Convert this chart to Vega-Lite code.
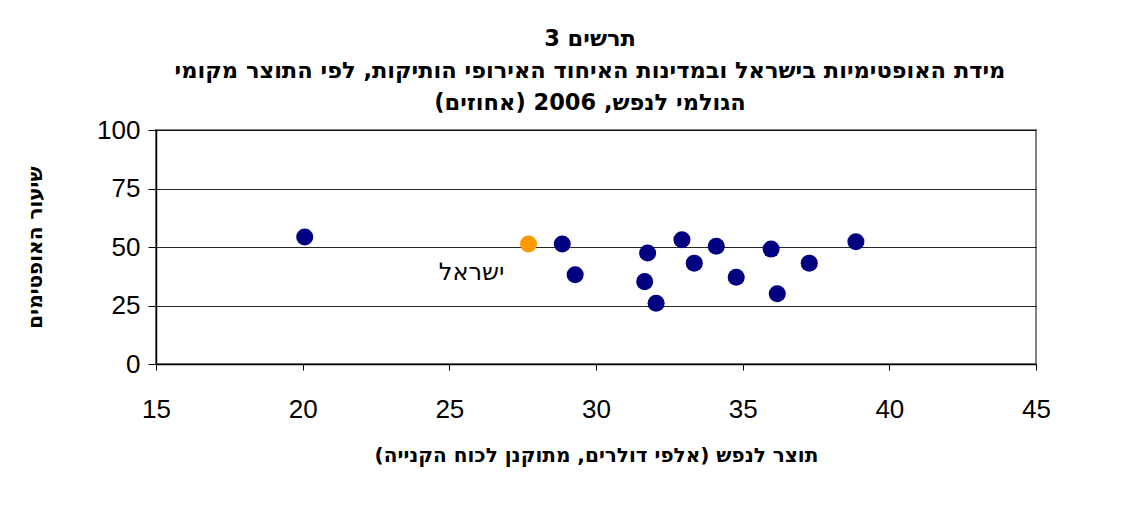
{
  "$schema": "https://vega.github.io/schema/vega-lite/v6.json",
  "width": 880,
  "height": 234,
  "autosize": {"type": "none"},
  "padding": {"left": 156, "top": 130, "right": 104, "bottom": 142},
  "background": "white",
  "config": {
    "view": {"stroke": "#808080", "strokeWidth": 2},
    "font": "Liberation Sans"
  },
  "title": {
    "text": ["תרשים 3", "מידת האופטימיות בישראל ובמדינות האיחוד האירופי הותיקות, לפי התוצר מקומי", "הגולמי לנפש, 2006 (אחוזים)"],
    "fontSize": 22.5,
    "fontWeight": "bold",
    "font": "DejaVu Sans",
    "lineHeight": 32,
    "anchor": "middle",
    "frame": "group",
    "dx": -6,
    "offset": 3,
    "color": "black"
  },
  "data": {
    "values": [
      {"gdp": 20.07, "optimism": 54.3, "group": "EU", "label": ""},
      {"gdp": 27.70, "optimism": 51.3, "group": "Israel", "label": "ישראל"},
      {"gdp": 28.85, "optimism": 51.3, "group": "EU", "label": ""},
      {"gdp": 29.29, "optimism": 38.1, "group": "EU", "label": ""},
      {"gdp": 31.76, "optimism": 47.4, "group": "EU", "label": ""},
      {"gdp": 31.66, "optimism": 35.2, "group": "EU", "label": ""},
      {"gdp": 32.05, "optimism": 26.0, "group": "EU", "label": ""},
      {"gdp": 32.93, "optimism": 53.1, "group": "EU", "label": ""},
      {"gdp": 33.35, "optimism": 43.1, "group": "EU", "label": ""},
      {"gdp": 34.10, "optimism": 50.3, "group": "EU", "label": ""},
      {"gdp": 34.78, "optimism": 37.1, "group": "EU", "label": ""},
      {"gdp": 35.97, "optimism": 49.1, "group": "EU", "label": ""},
      {"gdp": 36.18, "optimism": 30.0, "group": "EU", "label": ""},
      {"gdp": 37.27, "optimism": 43.1, "group": "EU", "label": ""},
      {"gdp": 38.86, "optimism": 52.2, "group": "EU", "label": ""}
    ]
  },
  "encoding": {
    "x": {
      "field": "gdp",
      "type": "quantitative",
      "scale": {"domain": [15, 45], "nice": false, "zero": false},
      "axis": {
        "values": [15, 20, 25, 30, 35, 40, 45],
        "grid": false,
        "domainColor": "black",
        "domainWidth": 1.5,
        "tickColor": "black",
        "tickSize": 6,
        "labelFontSize": 26,
        "labelColor": "black",
        "labelPadding": 26,
        "labelFlush": false,
        "title": "תוצר לנפש (אלפי דולרים, מתוקנן לכוח הקנייה)",
        "titleFont": "DejaVu Sans",
        "titleFontSize": 20,
        "titleFontWeight": "bold",
        "titleColor": "black",
        "titleBaseline": "middle",
        "titleY": 91
      }
    },
    "y": {
      "field": "optimism",
      "type": "quantitative",
      "scale": {"domain": [0, 100], "nice": false},
      "axis": {
        "values": [0, 25, 50, 75, 100],
        "grid": true,
        "gridColor": "black",
        "gridWidth": 1,
        "gridOpacity": 0.85,
        "domainColor": "black",
        "domainWidth": 1.5,
        "tickColor": "black",
        "tickSize": 8,
        "labelFontSize": 26,
        "labelColor": "black",
        "labelPadding": 8,
        "title": "שיעור האופטימים",
        "titleFont": "DejaVu Sans",
        "titleFontSize": 20,
        "titleFontWeight": "bold",
        "titleColor": "black",
        "titleX": -121,
        "titleY": 117,
        "titleBaseline": "middle"
      }
    }
  },
  "layer": [
    {
      "mark": {"type": "point", "filled": true, "shape": "circle", "size": 290, "opacity": 1},
      "encoding": {
        "color": {
          "field": "group",
          "type": "nominal",
          "scale": {"domain": ["EU", "Israel"], "range": ["#000080", "#FF9900"]},
          "legend": null
        }
      }
    },
    {
      "transform": [{"filter": "datum.label != ''"}],
      "mark": {"type": "text", "dx": -57, "dy": 29, "fontSize": 24, "font": "DejaVu Sans", "color": "black", "align": "center", "baseline": "middle"},
      "encoding": {
        "text": {"field": "label"}
      }
    }
  ]
}
